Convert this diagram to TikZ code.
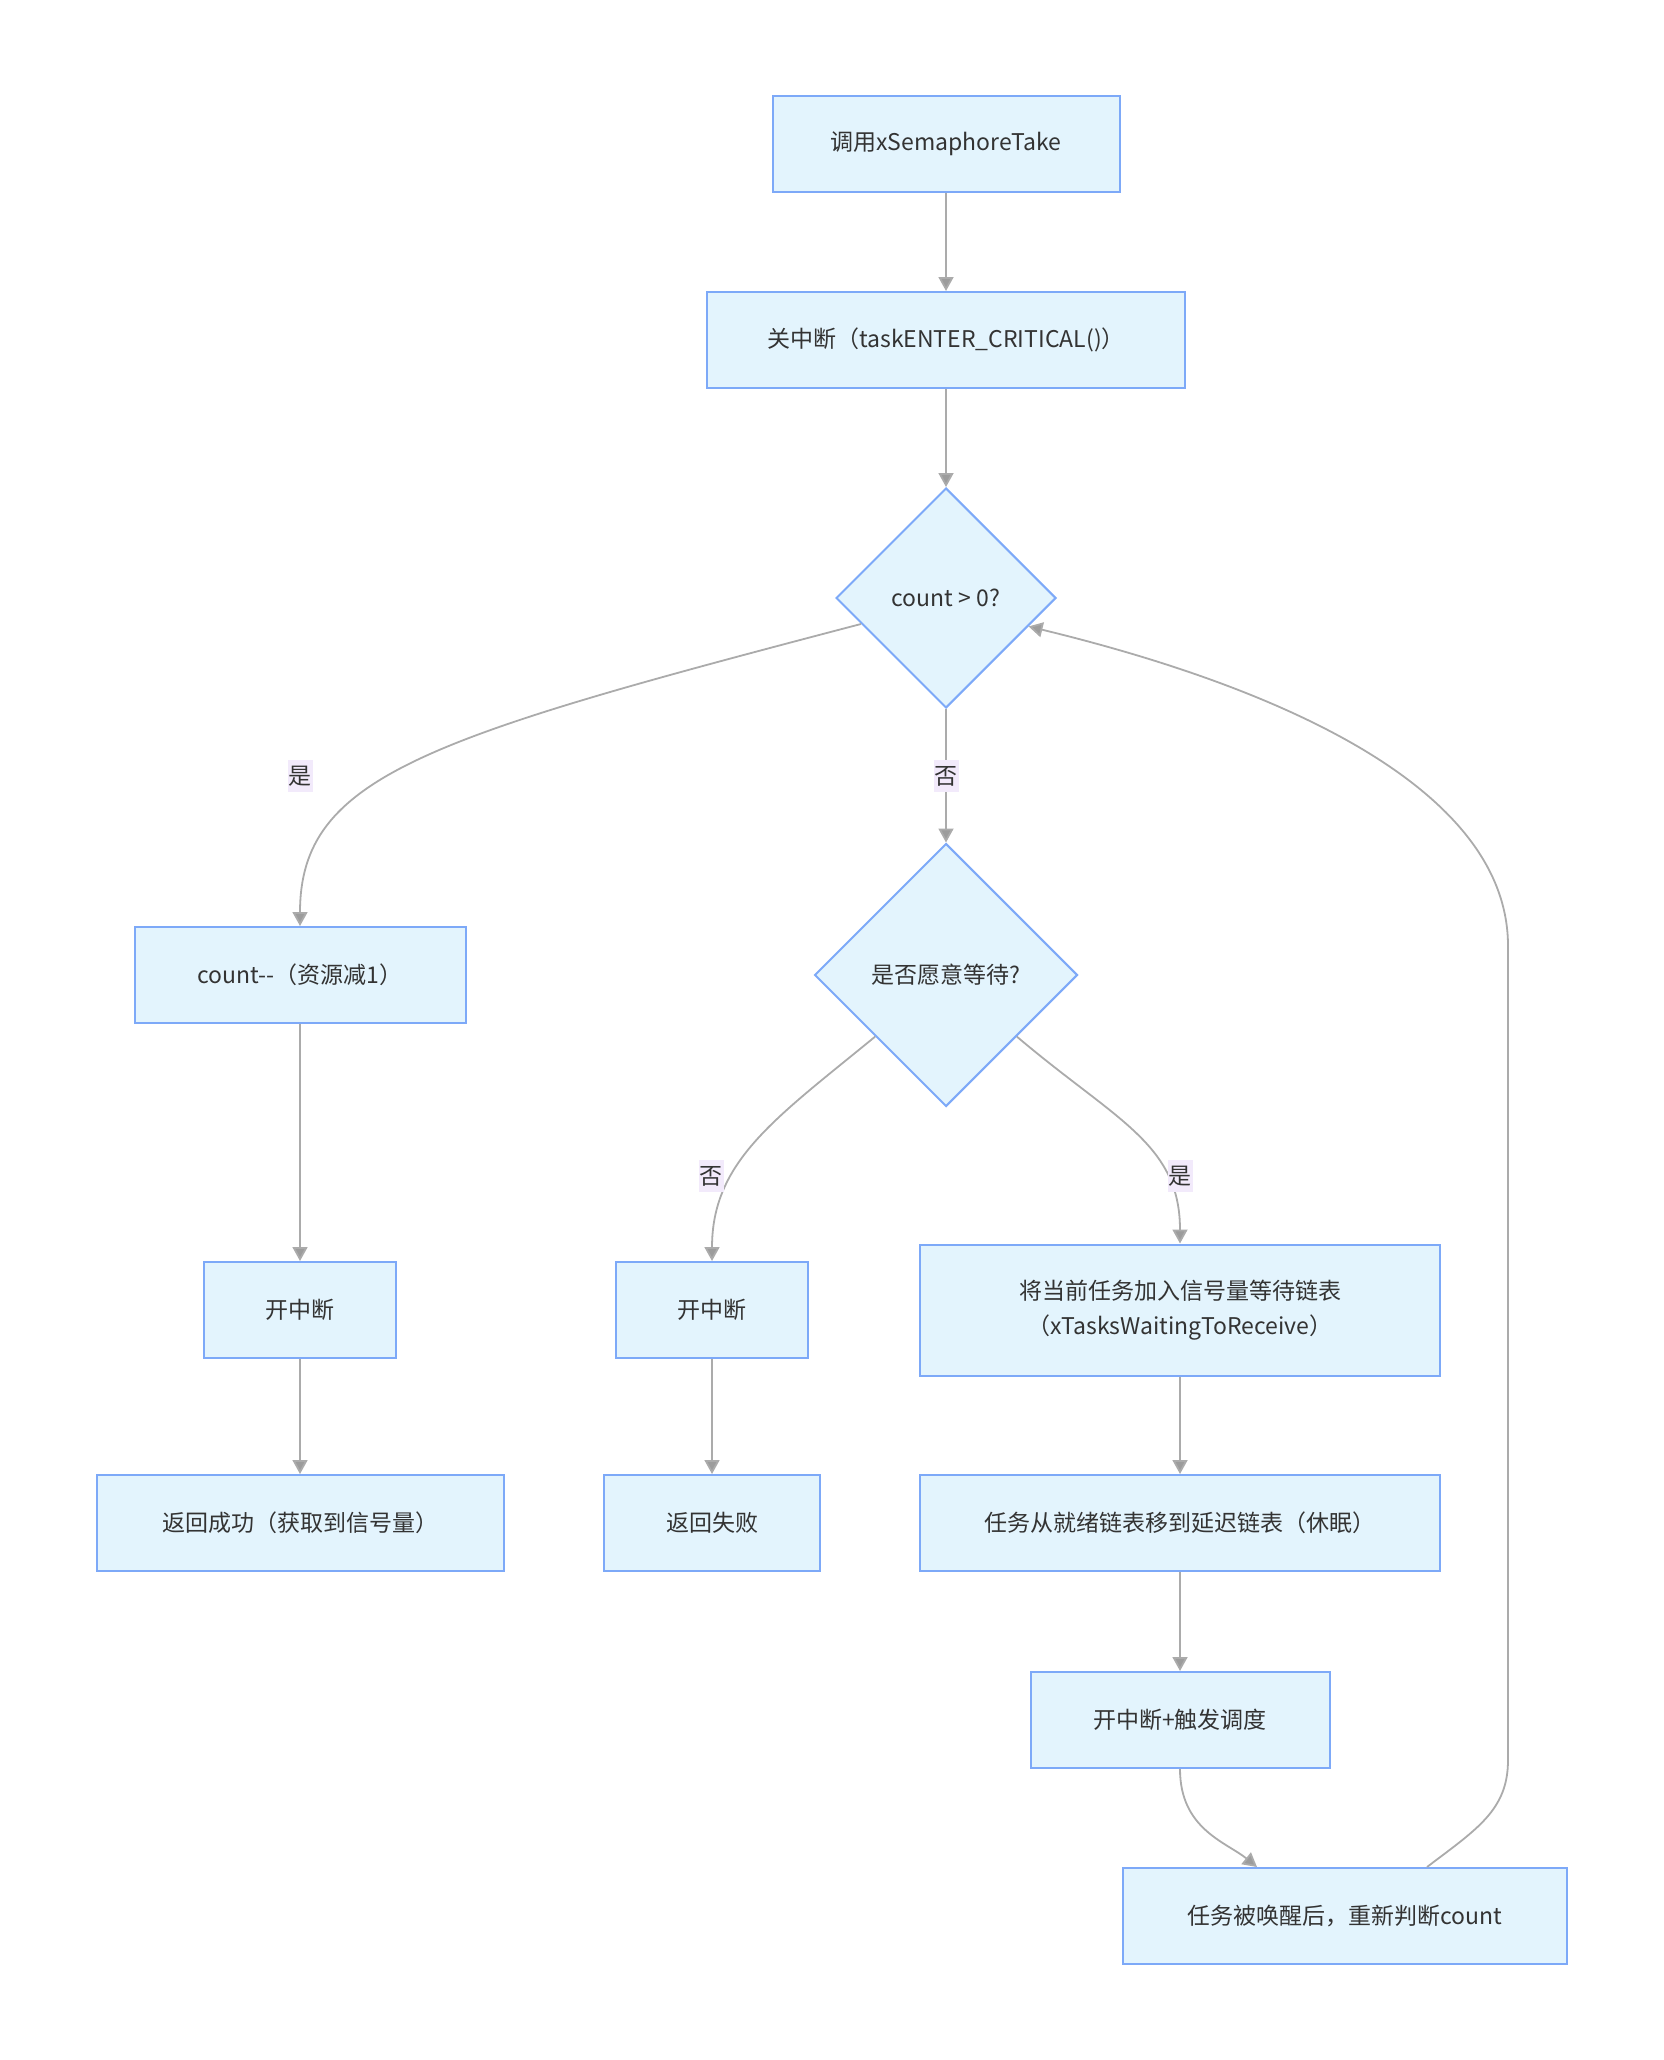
\documentclass[tikz,border=0pt]{standalone}
\usepackage{fontspec}
\setmainfont{Noto Sans CJK SC}
\usetikzlibrary{arrows.meta, shapes.geometric, positioning, calc}
\usepackage{xcolor}

\definecolor{boxfill}{HTML}{E3F4FD}
\definecolor{boxline}{HTML}{7DA9F8}
\definecolor{edgegray}{HTML}{ABABAB}
\definecolor{tipgray}{HTML}{9C9C9C}
\definecolor{tagfill}{HTML}{F2EAFB}
\definecolor{txt}{HTML}{333333}

\tikzset{
    proc/.style={rectangle, draw=boxline, fill=boxfill, line width=2pt, minimum height=96pt, text=txt, align=center, inner sep=0pt},
    cond/.style={diamond, aspect=1, draw=boxline, fill=boxfill, line width=2pt, text=txt, inner sep=0pt},
    flow/.style={draw=edgegray, line width=1.8pt, -{Triangle[length=14pt, width=15pt, fill=tipgray]}},
    tag/.style={fill=tagfill, text=txt, inner xsep=1pt, inner ysep=6pt}
}

\begin{document}
\begin{tikzpicture}[x=1pt, y=-1pt, font=\fontsize{23}{35}\selectfont]
    \useasboundingbox (0, 0) rectangle (1663, 2060);

    \node[proc, minimum width=347pt] (take) at (946, 144) {调用xSemaphoreTake};
    \node[proc, minimum width=478pt] (crit) at (946, 340) {关中断（taskENTER\_CRITICAL()）};
    \node[cond, minimum width=220pt, minimum height=220pt] (chk) at (946, 598) {count > 0?};
    \node[cond, minimum width=263pt, minimum height=263pt] (ask) at (946, 975) {是否愿意等待?};

    % left branch
    \node[proc, minimum width=331pt] (dec) at (300, 975) {count-{}-（资源减1）};
    \node[proc, minimum width=192pt] (enA) at (300, 1310) {开中断};
    \node[proc, minimum width=407pt] (okay) at (300, 1523) {返回成功（获取到信号量）};

    % middle branch
    \node[proc, minimum width=192pt] (enB) at (712, 1310) {开中断};
    \node[proc, minimum width=216pt] (fail) at (712, 1523) {返回失败};

    % right branch
    \node[proc, minimum width=520pt, minimum height=131pt] (enq) at (1180, 1310) {将当前任务加入信号量等待链表\\（xTasksWaitingToReceive）};
    \node[proc, minimum width=520pt] (move) at (1180, 1523) {任务从就绪链表移到延迟链表（休眠）};
    \node[proc, minimum width=299pt] (sched) at (1180, 1720) {开中断+触发调度};
    \node[proc, minimum width=444pt] (wake) at (1345, 1916) {任务被唤醒后，重新判断count};

    \draw[flow] (take) -- (crit);
    \draw[flow] (crit) -- (chk);
    \draw[flow] (chk.197) .. controls +(-435, 114) and +(0, -150) .. (dec.north);
    \draw[flow] (chk) -- (ask);
    \draw[flow] (ask.221) .. controls +(-100, 82) and +(0, -100) .. (enB.north);
    \draw[flow] (ask.319) .. controls +(99, 84) and +(0, -100) .. (enq.north);

    \draw[flow] (dec) -- (enA);
    \draw[flow] (enA) -- (okay);
    \draw[flow] (enB) -- (fail);
    \draw[flow] (enq) -- (move);
    \draw[flow] (move) -- (sched);
    \draw[flow] (sched.south) .. controls +(0, 60) and +(-31, -25) .. ([xshift=-88pt]wake.north);

    % loop back to the check
    \draw[flow] ([xshift=82pt]wake.north) .. controls +(50, -38) and +(0, 50) .. (1508, 1760)
        -- (1508, 946) .. controls +(0, -156) and +(256, 62) .. (chk.341);

    \node[tag] (yesA) at (300, 776) {是};
    \node[tag] (noA) at (946, 776) {否};
    \node[tag] (noB) at (711, 1176) {否};
    \node[tag] (yesB) at (1180, 1176) {是};

\end{tikzpicture}
\end{document}
